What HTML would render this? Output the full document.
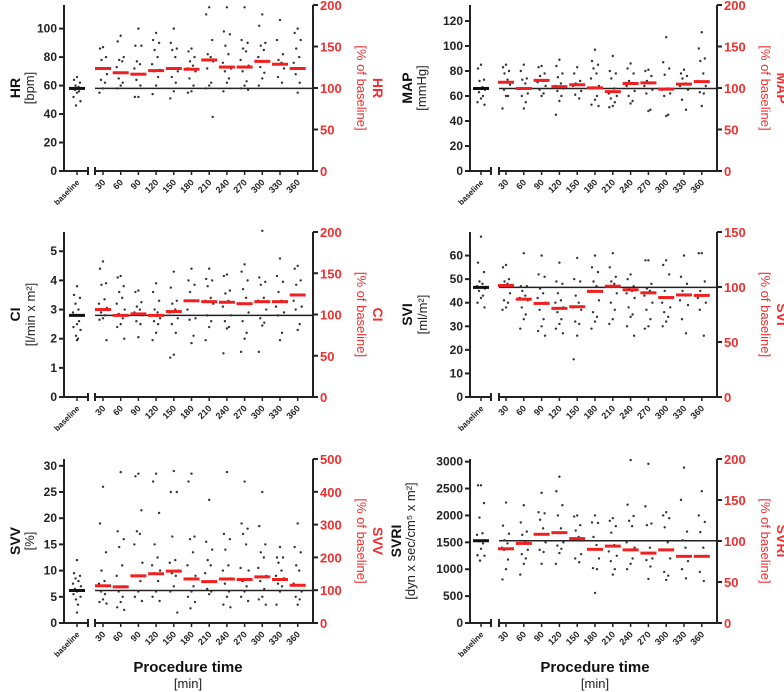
<!DOCTYPE html>
<html><head><meta charset="utf-8"><style>
body{margin:0;background:#fff;}
svg{display:block;font-family:"Liberation Sans",Arial,sans-serif;}
</style></head><body>
<svg id="fig" width="784" height="692" viewBox="0 0 784 692"></svg>
<script>
const timeLabels=["30","60","90","120","150","180","210","240","270","300","330","360"];
const hrMedians=[58,72,69,68,70.5,72,71.5,78,73,73,77,75,72];
const hrValues=[[66,64,62,60,59,58,58,57,56,55,52,49,46],[87,86,80,78,72,72,68,64,62,58,55],[95,91,80,78,77,73,69,65,62,60,58],[100,88,88,77,75,72,68,64,60,52,52],[97,92,90,85,80,75,71,70,66,60,54],[100,90,86,85,80,72,70,66,62,56,51],[86,84,80,77,74,72,70,65,60,56,55],[115,110,92,82,80,78,77,72,62,60,58,38],[115,98,96,88,82,76,72,70,65,62,56],[115,92,90,86,84,78,74,70,63,60,58,57],[110,102,90,88,85,80,77,73,69,65,60],[106,92,82,78,76,75,72,66,62],[100,97,92,86,80,76,72,68,62,55]];
const mapMedians=[66,71,66,72.5,67.5,69,66.5,63.5,70,70.5,65.5,69.5,71.5];
const mapValues=[[85,82,73,72,67,66,65,63,60,58,55,53],[85,83,80,78,73,71,69,65,60,60,50],[85,80,74,73,70,66,62,60,55,50],[84,83,78,76,72,71,68,65,62,60],[89,84,78,75,70,68,66,64,60,56,45],[83,78,72,70,69,68,64,61,58],[97,88,85,82,78,74,68,66,60,57,53,52],[92,80,78,74,66,62,60,58,55,52,51],[86,82,78,72,70,68,64,60,56,54],[81,80,76,72,70,68,65,62,49,48],[107,87,82,77,66,65,62,60,45,44],[81,78,76,74,70,68,65,57,49],[111,98,90,88,78,72,68,63,62,52]];
const ciMedians=[2.8,3.0,2.8,2.85,2.8,2.93,3.3,3.27,3.25,3.2,3.27,3.27,3.5];
const ciValues=[[3.8,3.5,3.4,3.2,3.0,2.9,2.8,2.8,2.6,2.5,2.4,2.3,2.1,2.0,1.95],[4.65,4.4,3.9,3.85,3.35,3.2,3.05,2.9,2.8,2.7,2.65,1.95],[4.15,4.1,3.8,3.6,3.4,3.2,3.0,2.85,2.7,2.5,2.4,2.0],[3.65,3.6,3.25,3.1,3.0,2.9,2.8,2.6,2.5,2.05],[3.9,3.6,3.3,3.0,2.9,2.8,2.7,2.6,2.5,2.2,1.95],[4.3,3.75,3.3,3.2,3.0,2.9,2.7,2.5,2.2,1.45,1.35],[4.4,4.0,3.85,3.6,3.3,3.0,2.7,2.65,2.1,1.85],[4.4,4.05,4.0,3.8,3.4,3.3,3.2,2.8,2.6,2.4,1.95],[4.2,4.15,3.65,3.55,3.3,3.1,2.8,2.6,2.4,2.35,1.5],[4.55,4.3,4.0,3.7,3.4,3.2,2.9,2.6,2.2,2.0,1.55],[5.7,4.1,3.95,3.85,3.4,3.3,3.0,2.7,2.55,2.45,1.55],[4.75,4.15,3.95,3.6,3.3,3.1,2.9,2.8,2.2,1.95],[4.5,4.4,4.0,3.85,3.5,3.3,3.1,3.0,2.5,2.3]];
const sviMedians=[46.5,47.3,41.5,39.7,37.6,38.3,44.8,47.0,45.5,44.2,42.2,43.3,43.1];
const sviValues=[[68,57,53,49,48,47,46,45,43,42,40,38],[56,55,50,49,48,47,44,41,40,38,37],[61,47,47,45,43,42,41,38,35,33,29],[60,52,51,46,44,42,40,37,33,30,28,26],[57,49,48,44,41,40,38,36,33,31,29,27],[59,50,49,43,40,38,37,32,31,26,16],[60,55,53,49,47,45,41,36,34,32,29],[61,55,51,49,48,47,44,40,37,33,31],[52,50,47,46,45,44,42,38,35,34,30,26],[58,58,48,46,45,43,40,37,33,30,29],[58,56,52,45,42,40,38,36,34,32,30],[60,51,48,45,43,41,39,33,27],[61,61,49,45,43,42,40,37,26]];
const svvMedians=[6.2,7.1,6.9,9.0,9.4,9.9,8.4,7.9,8.4,8.3,8.8,8.3,7.2];
const svvValues=[[12,9.5,9,8.5,8,7.5,7,6.5,6.2,6,5.5,5,4.5,3.5,2],[26,19,13.5,10,8,7.5,7,6,5.5,4.5,4,3.7],[28.8,17.5,16,14.5,11,9,7,6,5,4,3,2.5],[28.5,28,21.5,17.5,17,15,11.5,9,8,6,5,4.2],[28.5,27,21,15,12.5,11,10,9.5,8,6,5,4.2],[29,25,25,16.5,12,11.5,10,9.5,9,7,6,2],[28.5,27,16.5,16,13.5,11,9,8.5,7,6,5,4,2.8],[23.5,15.5,14,12,11,9.5,8,6.5,6,5.5],[28.8,17,16,14,11,10,8.5,7.5,6,5,3.5,3],[27,19,18,17,15,10.5,10,8,7,6,5,4.2],[25,18.5,15,13.5,12.5,10.5,9,8,6.5,5,4.5,3.5],[14.5,12.5,12.5,11.5,10,9,8.5,7.5,7,6,3.5],[19,14.5,13.5,11,10,7.5,6,5,4.5,3.5]];
const svriMedians=[1530,1380,1480,1650,1680,1570,1370,1430,1360,1300,1360,1240,1240];
const svriValues=[[2560,2560,2230,1960,1670,1640,1540,1520,1480,1380,1260,1250,1160],[2240,1810,1660,1540,1480,1400,1380,1360,1180,1000,810],[2190,1870,1700,1640,1500,1480,1360,1280,1200,1100,900],[2420,2060,2040,1920,1760,1650,1500,1360,1320,1100],[2720,2450,2190,2000,1760,1680,1500,1440,1380,1300,1100],[2000,1980,1820,1720,1600,1560,1280,1200,1130],[2000,1870,1860,1600,1450,1370,1200,1020,1000,560],[1950,1900,1800,1680,1450,1330,1250,1150,1000,900],[3030,2200,1990,1900,1800,1500,1400,1360,1200,1100,1000],[2960,2170,1850,1820,1400,1300,1200,1170,1050,820],[2060,2000,1950,1780,1500,1360,1200,950,880,800],[2890,2290,1700,1540,1400,1240,1150,1000,830],[2450,2000,1880,1690,1400,1240,1250,950,780]];
const hrTicks=[0,20,40,60,80,100], mapTicks=[0,20,40,60,80,100,120], ciTicks=[0,1,2,3,4,5], sviTicks=[0,10,20,30,40,50,60], svvTicks=[0,5,10,15,20,25,30], svriTicks=[0,500,1000,1500,2000,2500,3000];
const pct200=[0,50,100,150,200], pct150=[0,50,100,150], pct500=[0,100,200,300,400,500];

const NS="http://www.w3.org/2000/svg";
const svg=document.getElementById('fig');
function mk(tag,attrs,parent,text){const e=document.createElementNS(NS,tag);for(const k in attrs)e.setAttribute(k,attrs[k]);if(text!==undefined)e.textContent=text;(parent||svg).appendChild(e);return e;}
const cols=[{L:64,base:77,b1:88,b2:95,first:103,step:17.7,R:313},{L:470,base:481,b1:491,b2:499,first:506,step:17.8,R:717}];
const rows=[{y0:171,top:5},{y0:397,top:232},{y0:623,top:459}];
const panels=[
 {id:'hr',c:0,r:0,name:'HR',unit:'[bpm]',med:hrMedians,vals:hrValues,ticks:hrTicks,lmax:116.6,rt:pct200,rmax:200,tx:20,ux:34},
 {id:'map',c:1,r:0,name:'MAP',unit:'[mmHg]',med:mapMedians,vals:mapValues,ticks:mapTicks,lmax:132.8,rt:pct200,rmax:200,tx:412,ux:426},
 {id:'ci',c:0,r:1,name:'CI',unit:'[l/min x m²]',med:ciMedians,vals:ciValues,ticks:ciTicks,lmax:5.66,rt:pct200,rmax:200,tx:20,ux:35},
 {id:'svi',c:1,r:1,name:'SVI',unit:'[ml/m²]',med:sviMedians,vals:sviValues,ticks:sviTicks,lmax:70,rt:pct150,rmax:150,tx:412,ux:427},
 {id:'svv',c:0,r:2,name:'SVV',unit:'[%]',med:svvMedians,vals:svvValues,ticks:svvTicks,lmax:31.3,rt:pct500,rmax:500,tx:20,ux:34},
 {id:'svri',c:1,r:2,name:'SVRI',unit:'[dyn x sec/cm⁵ x m²]',med:svriMedians,vals:svriValues,ticks:svriTicks,lmax:3050,rt:pct200,rmax:200,tx:401,ux:415}
];
const jit=[0,-3,3,-1.5,1.5,-4,4,-2,2,0,-3.5,3.5,-1,1,0];
panels.forEach(p=>{
 const C=cols[p.c],Rw=rows[p.r];
 const g=mk('g',{});
 
 
 const H=Rw.y0-Rw.top;
 const yL=v=>Rw.y0-v/p.lmax*H;
 const yR=v=>Rw.y0-v/p.rmax*H;
 const xAt=i=>i===0?C.base:C.first+(i-1)*C.step;
 const ax=mk('g',{stroke:'#222','stroke-width':2},g);
 
 
 mk('line',{x1:C.L,y1:Rw.top,x2:C.L,y2:Rw.y0},ax);
 mk('line',{x1:C.R,y1:Rw.top,x2:C.R,y2:Rw.y0},ax);
 mk('line',{x1:C.L,y1:Rw.y0,x2:C.b1,y2:Rw.y0},ax);
 mk('line',{x1:C.b2,y1:Rw.y0,x2:C.R,y2:Rw.y0},ax);
 mk('line',{x1:C.b1,y1:Rw.y0-4,x2:C.b1,y2:Rw.y0+4},ax);
 mk('line',{x1:C.b2,y1:Rw.y0-4,x2:C.b2,y2:Rw.y0+4},ax);
 for(let i=0;i<13;i++) mk('line',{x1:xAt(i),y1:Rw.y0,x2:xAt(i),y2:Rw.y0+4,'stroke-width':1.5},ax);
 p.ticks.forEach(t=>{
  mk('line',{x1:C.L-5,y1:yL(t),x2:C.L,y2:yL(t)},ax);
  const tl=mk('text',{x:C.L-7,y:yL(t)+4,'text-anchor':'end','font-size':12,'font-weight':'bold',fill:'#222',stroke:'none'},g,String(t));
  
  
 });
 p.rt.forEach(t=>{
  mk('line',{x1:C.R,y1:yR(t),x2:C.R+5,y2:yR(t)},ax);
  const tl=mk('text',{x:C.R+7,y:yR(t)+5,'font-size':13,'font-weight':'bold',fill:'#f03030',stroke:'none'},g,String(t));
  
  
 });
 const xl=['baseline'].concat(timeLabels);
 xl.forEach((s,i)=>{
  const x=xAt(i)+3,y=Rw.y0+12;
  const t=mk('text',{x:x,y:y,'text-anchor':'end','font-size':i===0?8:9,'font-weight':'bold',fill:'#222',transform:`rotate(-45 ${x} ${y})`},g,s);
  
  
 });
 const ref=mk('line',{x1:C.b2,y1:yL(p.med[0]),x2:C.R,y2:yL(p.med[0]),stroke:'#222','stroke-width':1.5},g);
 
 
 p.vals.forEach((arr,i)=>{
  arr.forEach((v,j)=>{
   const d=mk('circle',{cx:xAt(i)+jit[j%jit.length],cy:yL(v),r:1.2,fill:'#333'},g);
   
   
  });
 });
 p.med.forEach((v,i)=>{
  const m=mk('rect',{x:xAt(i)-8,y:yL(v)-1.5,width:16,height:3,fill:i===0?'#111':'#f02020'},g);
  
  
 });
 const cy=(Rw.top+Rw.y0)/2;
 const lt=mk('text',{x:p.tx,y:cy,'text-anchor':'middle','font-size':14,'font-weight':'bold',fill:'#111',transform:`rotate(-90 ${p.tx} ${cy})`},g,p.name);
 
 
 const lu=mk('text',{x:p.ux,y:cy,'text-anchor':'middle','font-size':13,fill:'#222',transform:`rotate(-90 ${p.ux} ${cy})`},g,p.unit);
 
 
 const rt=mk('text',{x:C.R+60,y:cy,'text-anchor':'middle','font-size':14,'font-weight':'bold',fill:'#f03030',transform:`rotate(90 ${C.R+60} ${cy})`},g,p.name);
 
 
 const ru=mk('text',{x:C.R+44,y:cy,'text-anchor':'middle','font-size':13,fill:'#f03030',transform:`rotate(90 ${C.R+44} ${cy})`},g,'[% of baseline]');
 
 
});
[[188],[595]].forEach((c,k)=>{
 const a=mk('text',{x:c[0],y:672,'text-anchor':'middle','font-size':15,'font-weight':'bold',fill:'#111'},svg,'Procedure time');
 
 
 const b=mk('text',{x:c[0],y:688,'text-anchor':'middle','font-size':13,fill:'#222'},svg,'[min]');
 
 
});
</script>
</body></html>
